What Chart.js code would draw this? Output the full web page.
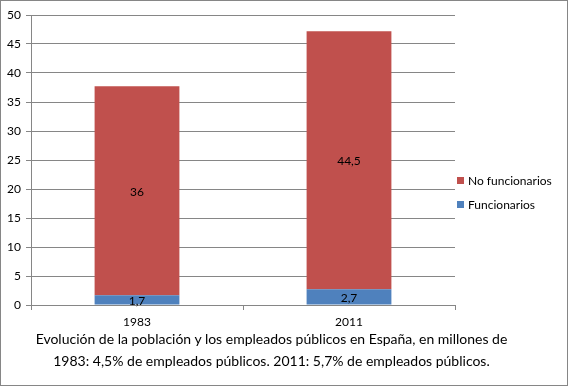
<!DOCTYPE html>
<html lang="es">
<head>
  <meta charset="UTF-8" />
  <title>Empleados públicos</title>
  <script src="https://cdn.jsdelivr.net/npm/chart.js"></script>
  <style>
    body {
      margin: 0;
      background: #fff;
      font-family: Lato, sans-serif;
    }
    .box {
      position: relative;
      width: 566px;
      height: 384px;
      border: 1px solid #868686;
    }
    canvas {
      position: absolute;
      left: 0;
      top: 0;
    }
    .legend {
      position: absolute;
      left: 456px;
      top: 172px;
      font-size: 12px;
      color: #000;
    }
    .legend div {
      height: 24px;
      line-height: 16px;
    }
    .legend span {
      display: inline-block;
      width: 7px;
      height: 7px;
      margin-right: 4px;
      vertical-align: 1px;
    }
    .caption {
      position: absolute;
      left: 0;
      width: 541px;
      top: 327px;
      text-align: center;
      font-size: 14px;
      line-height: 22px;
      color: #000;
    }
  </style>
</head>
<body>
  <div class="box">
    <canvas id="chart" width="566" height="384"></canvas>
    <div class="legend" id="legend"></div>
    <div class="caption">
      Evolución de la población y los empleados públicos en España, en millones de<br />
      1983: 4,5% de empleados públicos. 2011: 5,7% de empleados públicos.
    </div>
  </div>

  <script>
    const years = ["1983", "2011"];
    const funcionarios = [1.7, 2.7];
    const noFuncionarios = [36, 44.5];
    const yTicks = [0, 5, 10, 15, 20, 25, 30, 35, 40, 45, 50];

    const red = "#C0504D";
    const blue = "#4F81BD";
    const gridColor = "#868686";

    // value labels in the middle of each segment, decimal comma
    const valueLabels = {
      id: "valueLabels",
      afterDatasetsDraw(chart) {
        const ctx = chart.ctx;
        ctx.save();
        ctx.font = "12px Lato";
        ctx.fillStyle = "#000";
        ctx.textAlign = "center";
        ctx.textBaseline = "middle";
        chart.data.datasets.forEach((ds, i) => {
          chart.getDatasetMeta(i).data.forEach((bar, j) => {
            const txt = String(ds.data[j]).replace(".", ",");
            ctx.fillText(txt, bar.x, (bar.y + bar.base) / 2 + 1);
          });
        });
        ctx.restore();
      }
    };

    const chart = new Chart(document.getElementById("chart"), {
      type: "bar",
      data: {
        labels: years,
        datasets: [
          {
            label: "Funcionarios",
            data: funcionarios,
            backgroundColor: blue,
            barPercentage: 0.4,
            categoryPercentage: 1
          },
          {
            label: "No funcionarios",
            data: noFuncionarios,
            backgroundColor: red,
            barPercentage: 0.4,
            categoryPercentage: 1
          }
        ]
      },
      options: {
        responsive: false,
        animation: false,
        layout: { padding: { top: 14, right: 112, bottom: 50, left: 0 } },
        plugins: {
          legend: { display: false },
          tooltip: { enabled: false }
        },
        scales: {
          x: {
            stacked: true,
            afterFit(s) { s.height = 30; },
            grid: {
              offset: true,
              drawOnChartArea: false,
              color: gridColor,
              tickLength: 5
            },
            border: { color: gridColor },
            ticks: { color: "#000", font: { family: "Lato", size: 12 }, padding: 5 }
          },
          y: {
            stacked: true,
            min: 0,
            max: 50,
            afterFit(s) { s.width = 30; },
            afterBuildTicks(s) { s.ticks = yTicks.map(v => ({ value: v })); },
            grid: { color: gridColor, tickLength: 5 },
            border: { color: gridColor },
            ticks: { color: "#000", font: { family: "Lato", size: 12 }, padding: 5 }
          }
        }
      },
      plugins: [valueLabels]
    });

    // legend, top series first like the original
    const legend = document.getElementById("legend");
    chart.data.datasets.slice().reverse().forEach(ds => {
      const row = document.createElement("div");
      row.innerHTML = '<span style="background:' + ds.backgroundColor + '"></span>' + ds.label;
      legend.appendChild(row);
    });
  </script>
</body>
</html>
